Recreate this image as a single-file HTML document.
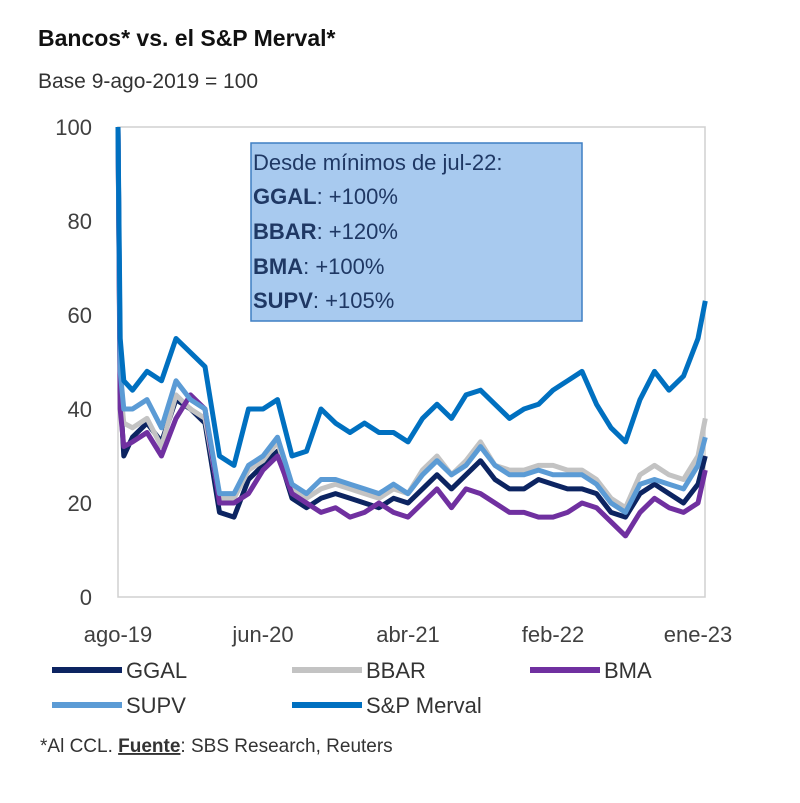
<!DOCTYPE html>
<html><head><meta charset="utf-8"><style>
body{margin:0;background:#fff;width:800px;height:798px;overflow:hidden;font-family:"Liberation Sans",sans-serif;}
</style></head><body>
<svg id="c" width="800" height="798" xmlns="http://www.w3.org/2000/svg" style="font-family:'Liberation Sans',sans-serif">
<text x="38" y="46" font-size="23" font-weight="bold" fill="#111">Bancos* vs. el S&amp;P Merval*</text>
<text x="38" y="88" font-size="21" fill="#333">Base 9-ago-2019 = 100</text>
<rect x="118" y="127" width="587" height="470" fill="none" stroke="#d0d0d0" stroke-width="1.5"/>
<g id="yt"></g><g id="xt"></g><g id="series"></g>
<rect x="251" y="143" width="331" height="178" fill="#a8caef" stroke="#3f7fc4" stroke-width="1.5"/>
<g font-size="22" fill="#1f3864">
<text x="253" y="170">Desde mínimos de jul-22:</text>
<text x="253" y="204"><tspan font-weight="bold">GGAL</tspan>: +100%</text>
<text x="253" y="239"><tspan font-weight="bold">BBAR</tspan>: +120%</text>
<text x="253" y="274"><tspan font-weight="bold">BMA</tspan>: +100%</text>
<text x="253" y="308"><tspan font-weight="bold">SUPV</tspan>: +105%</text>
</g>
<g id="legend" font-size="22" fill="#333"></g>
<text x="40" y="752" font-size="19" fill="#333">*Al CCL. <tspan font-weight="bold" text-decoration="underline">Fuente</tspan>: SBS Research, Reuters</text>
</svg>
<script>
const months=[0,0.15,0.4,1,2,3,4,5,6,7,8,9,10,11,12,13,14,15,16,17,18,19,20,21,22,23,24,25,26,27,28,29,30,31,32,33,34,35,36,37,38,39,40,40.5];
const merval=[100,55,46,44,48,46,55,52,49,30,28,40,40,42,30,31,40,37,35,37,35,35,33,38,41,38,43,44,41,38,40,41,44,46,48,41,36,33,42,48,44,47,55,63];
const supv=[100,48,40,40,42,36,46,42,40,22,22,28,30,34,24,22,25,25,24,23,22,24,22,26,29,26,28,32,28,26,26,27,26,26,26,24,20,18,24,25,24,23,28,34];
const bbar=[100,45,37,36,38,32,43,40,38,21,21,27,29,33,23,21,23,24,23,22,21,23,22,27,30,26,29,33,28,27,27,28,28,27,27,25,21,19,26,28,26,25,30,38];
const ggal=[100,44,30,34,37,33,42,40,37,18,17,25,28,31,21,19,21,22,21,20,19,21,20,23,26,23,26,29,25,23,23,25,24,23,23,22,18,17,22,24,22,20,24,30];
const bma=[100,40,32,33,35,30,38,43,40,20,20,22,27,30,22,20,18,19,17,18,20,18,17,20,23,19,23,22,20,18,18,17,17,18,20,19,16,13,18,21,19,18,20,27];
const yTicks=[0,20,40,60,80,100];
const xTickMonths=[0,10,20,30,40];
const xTickLabels=["ago-19","jun-20","abr-21","feb-22","ene-23"];
const seriesNames=["GGAL","BBAR","BMA","SUPV","S&P Merval"];
const NS="http://www.w3.org/2000/svg";
const x=m=>118+m*14.5, y=v=>597-v*4.7;
function mk(t,a,p){const e=document.createElementNS(NS,t);for(const k in a)e.setAttribute(k,a[k]);p.appendChild(e);return e;}
const yt=document.getElementById('yt');
yTicks.forEach(v=>{const t=mk('text',{x:92,y:y(v)+8,'font-size':22,fill:'#404040','text-anchor':'end'},yt);t.textContent=v;

});
const xt=document.getElementById('xt');
xTickMonths.forEach((m,i)=>{const t=mk('text',{x:x(m),y:642,'font-size':22,fill:'#404040','text-anchor':'middle'},xt);t.textContent=xTickLabels[i];

});
const sg=document.getElementById('series');
const data=[ggal,bbar,bma,supv,merval];
const cols=["#0c2461","#c3c3c3","#7030a0","#5b9bd5","#0070c0"];
const keys=["ggal","bbar","bma","supv","merval"];
data.forEach((arr,i)=>{const d=arr.map((v,j)=>(j?'L':'M')+x(months[j]).toFixed(1)+' '+y(v).toFixed(1)).join(' ');
const p=mk('path',{d:d,fill:'none',stroke:cols[i],'stroke-width':5,'stroke-linejoin':'round'},sg);

});
const lg=document.getElementById('legend');
const pos=[[52,670],[292,670],[530,670],[52,705],[292,705]];
seriesNames.forEach((n,i)=>{const [lx,ly]=pos[i];
const g=mk('g',{},lg);


mk('line',{x1:lx,y1:ly,x2:lx+70,y2:ly,stroke:cols[i],'stroke-width':6},g);
const t=mk('text',{x:lx+74,y:ly+8},g);t.textContent=n;});
</script>
</body></html>
